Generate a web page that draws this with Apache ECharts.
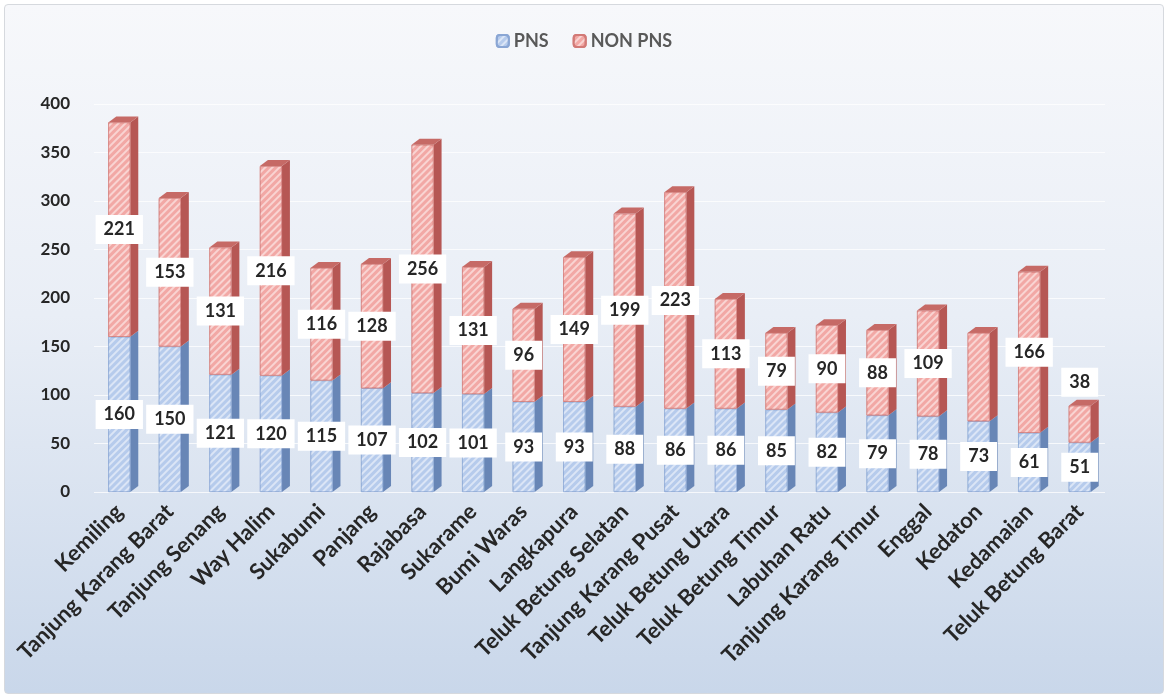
<!DOCTYPE html>
<html><head><meta charset="utf-8">
<script src="https://cdn.jsdelivr.net/npm/echarts@6/dist/echarts.min.js"></script>
<style>
html,body{margin:0;padding:0;width:1168px;height:698px;overflow:hidden;background:#fff;}
#wrap{position:absolute;left:4px;top:4px;width:1158px;height:688px;border:1px solid #d6d9de;border-radius:4px;
background:linear-gradient(to bottom,#f7f8fb 0%,#e9eef6 45%,#c9d7ea 100%);}
#c{position:absolute;left:-5px;top:-5px;width:1168px;height:698px;}
</style></head>
<body><div id="wrap"><div id="c"></div></div>
<script>
const categories = ["Kemiling","Tanjung Karang Barat","Tanjung Senang","Way Halim","Sukabumi","Panjang","Rajabasa","Sukarame","Bumi Waras","Langkapura","Teluk Betung Selatan","Tanjung Karang Pusat","Teluk Betung Utara","Teluk Betung Timur","Labuhan Ratu","Tanjung Karang Timur","Enggal","Kedaton","Kedamaian","Teluk Betung Barat"];
const pns = [160,150,121,120,115,107,102,101,93,93,88,86,86,85,82,79,78,73,61,51];
const nonPns = [221,153,131,216,116,128,256,131,96,149,199,223,113,79,90,88,109,91,166,38];
const yTicks = [0,50,100,150,200,250,300,350,400];

const BW = 22, DX = 8, DY = 6;
const chart = echarts.init(document.getElementById('c'));
const lbl = {show:true,position:'inside',color:'#262626',fontWeight:'bold',fontSize:18,fontFamily:'Lato',
  backgroundColor:'#ffffff',padding:[6,8,5,8]};
const pnsData = pns.map(v=>({value:v}));
const nonData = nonPns.map((v,i)=>{
  const d={value:v};
  if(categories[i]==='Kedaton') d.label={show:false};
  if(categories[i]==='Teluk Betung Barat') d.label={position:'top',distance:9};
  return d;
});
const depthData = categories.map((c,i)=>[i,pns[i],pns[i]+nonPns[i]]);
const hatch = {symbol:'rect',symbolSize:1,dashArrayX:[[1,0]],dashArrayY:[2,3],rotation:-Math.PI/4,color:'rgba(255,255,255,0.5)'};

function renderDepth(params, api){
  const i = api.value(0);
  const p0 = api.coord([i,0]);
  const p1 = api.coord([i,api.value(1)]);
  const p2 = api.coord([i,api.value(2)]);
  const xl = p0[0]-BW/2, xr = p0[0]+BW/2;
  const side = (ya,yb,color)=>({type:'polygon',shape:{points:[[xr,ya],[xr+DX,ya-DY],[xr+DX,yb-DY],[xr,yb]]},
    style:{fill:color,stroke:null}});
  return {type:'group',children:[
    side(p0[1],p1[1],'#6886b6'),
    side(p1[1],p2[1],'#b65754'),
    {type:'polygon',shape:{points:[[xl,p2[1]],[xl+DX,p2[1]-DY],[xr+DX,p2[1]-DY],[xr,p2[1]]]},style:{fill:'#c66a66'}}
  ]};
}

chart.setOption({
  animation:false,
  legend:{top:27,left:'center',itemWidth:12,itemHeight:12,itemGap:24,
    textStyle:{fontFamily:'Lato',fontSize:18,color:'#595959',fontWeight:'bold'},
    data:['PNS','NON PNS']},
  grid:{left:94,right:63,top:104,bottom:206},
  xAxis:{type:'category',data:categories,
    axisLine:{show:false},axisTick:{show:false},
    axisLabel:{interval:0,rotate:45,margin:16,fontFamily:'Lato',fontWeight:'bold',fontSize:22,color:'#262626'}},
  yAxis:{type:'value',min:0,max:400,interval:50,
    axisLine:{show:false},axisTick:{show:false},
    splitLine:{lineStyle:{color:'rgba(255,255,255,0.75)',width:1}},
    axisLabel:{margin:24,fontFamily:'Lato',fontWeight:'bold',fontSize:17,color:'#262626',
      formatter:v=>yTicks.includes(v)?String(v):''}},
  series:[
    {type:'custom',renderItem:renderDepth,data:depthData,z:1,silent:true,legendHoverLink:false,
     encode:{x:0,y:2}},
    {name:'PNS',type:'bar',stack:'t',barWidth:BW,data:pnsData,z:2,
     itemStyle:{color:'#b6cbec',borderColor:'#8aa6d4',borderWidth:0.6,decal:hatch},
     label:lbl},
    {name:'NON PNS',type:'bar',stack:'t',barWidth:BW,data:nonData,z:2,
     itemStyle:{color:'#f2a8a5',borderColor:'#d27a77',borderWidth:0.6,decal:hatch},
     label:lbl}
  ]
});
</script></body></html>
